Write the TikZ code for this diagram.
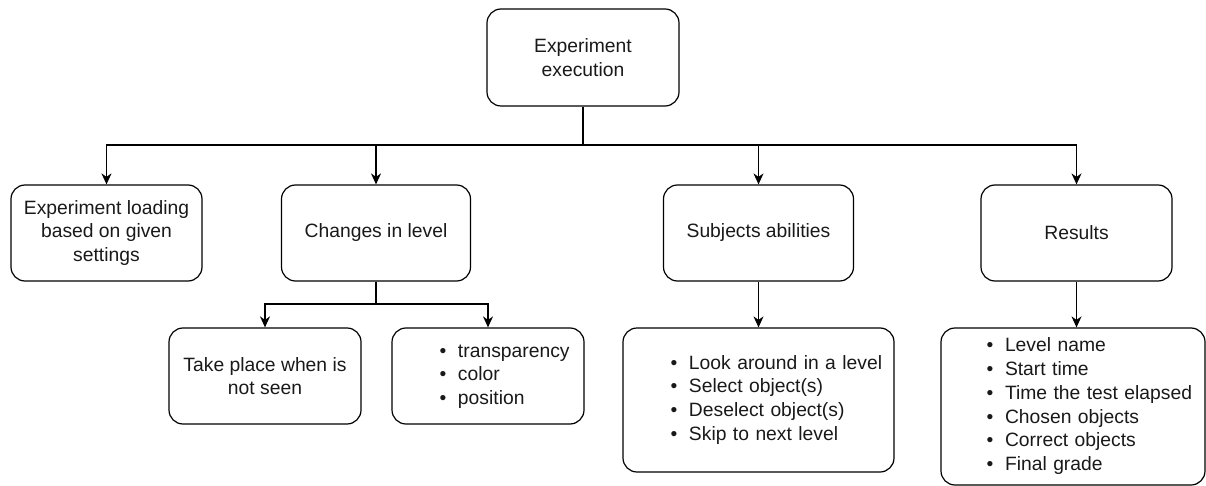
\documentclass[tikz,border=0pt]{standalone}
\usepackage{fontspec}
\setmainfont{Liberation Sans}
\usetikzlibrary{arrows.meta}
\newcommand{\bl}[1]{\makebox[19pt][l]{\hspace{0.5pt}\textbullet}#1}
\newcommand{\blist}[2]{\hspace*{#1}\begin{tabular}{@{}l@{}}#2\end{tabular}}
\tikzset{
  box/.style={draw, line width=1.2pt, rounded corners=14pt, align=center, inner sep=0pt,
    font=\fontsize{19.3}{23.7}\selectfont, text=black!90},
  listbox/.style={box, align=left},
  arr/.style={draw, line width=1.2pt, -{Stealth[length=11pt,width=10pt,inset=3.5pt]}},
  link/.style={draw, line width=1.2pt}
}
\begin{document}
\begin{tikzpicture}[x=1pt,y=-1pt]
\useasboundingbox (0,0) rectangle (1206,486);
% top
\node[box, minimum width=192pt, minimum height=97pt] (top) at (583,57.5) {Experiment\\execution};
% second row
\node[box, minimum width=191pt, minimum height=96pt] (load) at (106.5,233) {Experiment loading\\based on given\\settings};
\node[box, minimum width=189pt, minimum height=96pt] (changes) at (376,233) {Changes in level};
\node[box, minimum width=190pt, minimum height=96pt] (subjects) at (758.5,233) {Subjects abilities};
\node[box, minimum width=191pt, minimum height=96pt] (results) at (1076.5,233) {Results};
% third row
\node[box, minimum width=192pt, minimum height=96pt] (take) at (265,376) {Take place when is\\not seen};
\node[listbox, text width=192pt, minimum height=96pt] (props) at (488,376)
  {\blist{47pt}{\bl{transparency}\\ \bl{color}\\ \bl{position}}};
\node[listbox, text width=271pt, minimum height=144pt] (abil) at (758.5,400)
  {\blist{47pt}{\bl{Look around in a level}\\ \bl{Select object(s)}\\ \bl{Deselect object(s)}\\ \bl{Skip to next level}}};
\node[listbox, text width=264pt, minimum height=157pt] (reslist) at (1073,406.5)
  {\blist{45pt}{\bl{Level name}\\ \bl{Start time}\\ \bl{Time the test elapsed}\\ \bl{Chosen objects}\\ \bl{Correct objects}\\ \bl{Final grade}}};
% connectors
\coordinate (bus) at (583,145);
\coordinate (bus2) at (376,304);
\draw[link] (top.south) -- (bus);
\draw[arr] (bus) -| (load.north);
\draw[arr] (bus) -| (changes.north);
\draw[arr] (bus) -| (subjects.north);
\draw[arr] (bus) -| (results.north);
\draw[link] (changes.south) -- (bus2);
\draw[arr] (bus2) -| (take.north);
\draw[arr] (bus2) -| (props.north);
\draw[arr] (subjects.south) -- (subjects.south |- abil.north);
\draw[arr] (results.south) -- (results.south |- reslist.north);
\end{tikzpicture}
\end{document}
